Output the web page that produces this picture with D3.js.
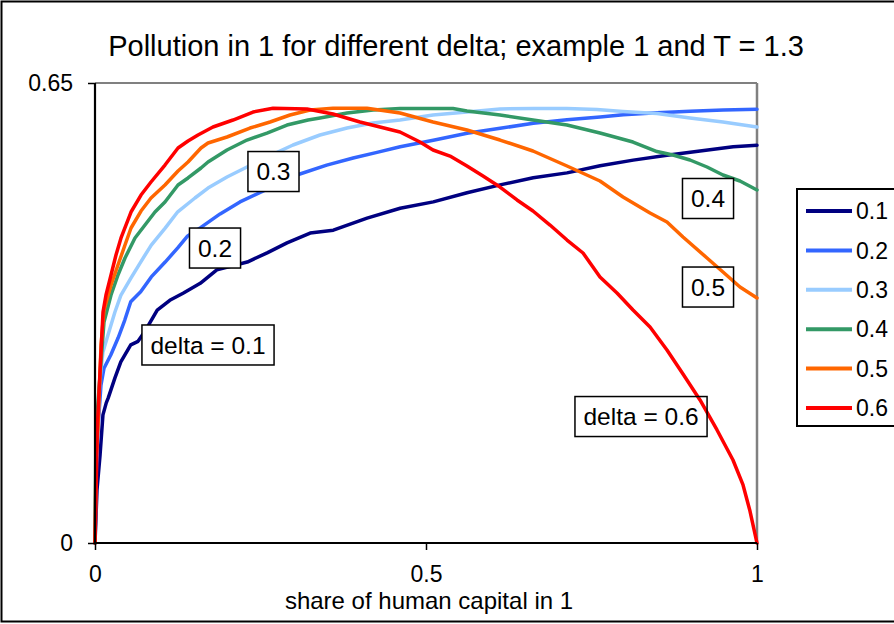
<!DOCTYPE html>
<html>
<head>
<meta charset="utf-8">
<script src="https://cdn.jsdelivr.net/npm/d3@7"></script>
<style>
  html, body { margin: 0; padding: 0; background: #fff; }
  svg { display: block; font-family: "Liberation Sans", Arial, sans-serif; }
</style>
</head>
<body>
<svg id="chart" width="894" height="624"></svg>
<script>
// ---- Data ----
const title = "Pollution in 1 for different delta; example 1 and T = 1.3";
const xTitle = "share of human capital in 1";
const xTicks = [0, 0.5, 1];
const yTicks = [0, 0.65];
const seriesNames = ["0.1", "0.2", "0.3", "0.4", "0.5", "0.6"];
const seriesColors = ["#000080", "#3366FF", "#99CCFF", "#339966", "#FF6600", "#FF0000"];

const delta01 = [[0,0],[0.003,0.075],[0.0076,0.124],[0.012,0.181],[0.017,0.198],[0.020,0.205],[0.030,0.233],[0.039,0.256],[0.054,0.280],[0.065,0.285],[0.076,0.300],[0.094,0.329],[0.113,0.343],[0.133,0.353],[0.159,0.367],[0.184,0.386],[0.230,0.397],[0.260,0.410],[0.290,0.424],[0.325,0.438],[0.360,0.442],[0.411,0.459],[0.461,0.473],[0.511,0.482],[0.562,0.495],[0.612,0.506],[0.662,0.516],[0.713,0.523],[0.763,0.533],[0.813,0.541],[0.864,0.548],[0.914,0.554],[0.964,0.560],[1.0,0.562]];
const delta02 = [[0,0],[0.0015,0.089],[0.0045,0.162],[0.009,0.223],[0.0136,0.247],[0.024,0.266],[0.035,0.290],[0.045,0.315],[0.054,0.341],[0.069,0.355],[0.085,0.376],[0.106,0.397],[0.125,0.417],[0.140,0.434],[0.160,0.446],[0.189,0.465],[0.219,0.482],[0.260,0.500],[0.305,0.520],[0.350,0.534],[0.390,0.544],[0.426,0.552],[0.461,0.560],[0.511,0.569],[0.562,0.579],[0.612,0.586],[0.662,0.593],[0.713,0.598],[0.763,0.602],[0.798,0.605],[0.849,0.608],[0.899,0.610],[0.949,0.612],[1.0,0.613]];
const delta03 = [[0,0],[0.0015,0.103],[0.0071,0.2275],[0.012,0.270],[0.0196,0.294],[0.030,0.326],[0.039,0.350],[0.054,0.374],[0.069,0.397],[0.085,0.421],[0.106,0.445],[0.125,0.468],[0.151,0.4875],[0.1707,0.5016],[0.1994,0.5172],[0.2296,0.5313],[0.2598,0.5454],[0.2991,0.5624],[0.3399,0.5765],[0.3807,0.5864],[0.4199,0.5935],[0.4607,0.5977],[0.5106,0.6048],[0.5619,0.609],[0.6118,0.6133],[0.6616,0.614],[0.7130,0.614],[0.7583,0.6125],[0.7976,0.6097],[0.8489,0.6069],[0.8988,0.6005],[0.9486,0.5949],[1.0,0.5878]];
const delta04 = [[0,0],[0.0015,0.1597],[0.0091,0.2558],[0.0136,0.3123],[0.0242,0.3504],[0.0347,0.3787],[0.0453,0.4027],[0.0604,0.431],[0.0755,0.4493],[0.0906,0.4677],[0.1057,0.4818],[0.1254,0.5059],[0.1405,0.5158],[0.1601,0.5299],[0.1707,0.5384],[0.1994,0.5553],[0.2296,0.5694],[0.2598,0.5793],[0.29,0.5906],[0.3218,0.5977],[0.3399,0.6005],[0.3807,0.6076],[0.4199,0.6118],[0.4607,0.614],[0.5408,0.614],[0.5619,0.6104],[0.6118,0.6048],[0.6616,0.5977],[0.713,0.5906],[0.7628,0.5793],[0.8127,0.5666],[0.8489,0.5532],[0.8731,0.5483],[0.8988,0.5412],[0.9245,0.5313],[0.9486,0.52],[0.9743,0.5115],[1.0,0.4988]];
const delta05 = [[0,0],[0.0015,0.1173],[0.0045,0.1625],[0.0091,0.2798],[0.0136,0.3292],[0.0242,0.3646],[0.0347,0.3928],[0.0453,0.4211],[0.0544,0.4451],[0.0695,0.4691],[0.0846,0.4875],[0.1057,0.5059],[0.1254,0.5256],[0.1405,0.5384],[0.1601,0.5581],[0.1707,0.5652],[0.1994,0.5737],[0.2341,0.5864],[0.2644,0.5949],[0.2946,0.6048],[0.3248,0.6118],[0.3595,0.6142],[0.4109,0.6142],[0.4607,0.6076],[0.5106,0.5949],[0.5619,0.5836],[0.6118,0.5694],[0.6616,0.5539],[0.713,0.5327],[0.7628,0.5115],[0.7976,0.4889],[0.8384,0.4663],[0.864,0.4536],[0.8882,0.4324],[0.9245,0.4027],[0.9486,0.3829],[0.9743,0.3617],[1.0,0.3462]];
const delta06 = [[0,0],[0.0008,0.0325],[0.0035,0.1625],[0.0071,0.2331],[0.0121,0.3264],[0.0166,0.3504],[0.0242,0.3787],[0.0317,0.407],[0.0393,0.431],[0.0544,0.4677],[0.0695,0.4917],[0.0846,0.5101],[0.1057,0.5341],[0.1254,0.5581],[0.1405,0.568],[0.1556,0.5765],[0.1782,0.5878],[0.2085,0.5977],[0.2387,0.609],[0.2689,0.6142],[0.3202,0.6133],[0.3595,0.6062],[0.4003,0.5949],[0.4305,0.5878],[0.4607,0.5808],[0.4909,0.5666],[0.5106,0.5553],[0.5363,0.5468],[0.5619,0.5327],[0.5861,0.5186],[0.6118,0.503],[0.6375,0.4847],[0.6616,0.4691],[0.6873,0.4493],[0.713,0.4281],[0.7372,0.4098],[0.7628,0.3759],[0.7885,0.3533],[0.8127,0.3292],[0.8384,0.3052],[0.864,0.2727],[0.8882,0.2388],[0.9139,0.2021],[0.9396,0.1597],[0.9637,0.1173],[0.9789,0.082],[0.9894,0.0452],[1.0,0]];
const seriesData = [delta01, delta02, delta03, delta04, delta05, delta06];

// annotation labels: text, box centre in data units, white fill?
const labelTexts = ["delta = 0.1", "0.2", "0.3", "0.4", "0.5", "delta = 0.6"];
const labelX = [0.1707, 0.1813, 0.2696, 0.926, 0.926, 0.8248];
const labelY = [0.2798, 0.4168, 0.5249, 0.4868, 0.3617, 0.1787];
const labelFilled = [true, true, true, true, false, false];

// ---- Drawing ----
const svg = d3.select("#chart");
const W = 894, H = 624;
const x = d3.scaleLinear().domain([0, 1]).range([95, 757]);
const y = d3.scaleLinear().domain([0, 0.65]).range([543, 83]);

svg.append("rect").attr("x", 0).attr("y", 0).attr("width", W).attr("height", H).attr("fill", "#fff");
// outer chart frame (right side is cut off in the reference)
svg.append("rect").attr("x", 1.5).attr("y", 1.5).attr("width", W + 20).attr("height", H - 4)
  .attr("fill", "none").attr("stroke", "#000").attr("stroke-width", 2);

// title
svg.append("text").attr("x", 456).attr("y", 56).attr("text-anchor", "middle")
  .attr("font-size", 29).attr("fill", "#000").text(title);

// plot border (top & right grey)
svg.append("line").attr("x1", x(0)).attr("x2", x(1)).attr("y1", y(0.65)).attr("y2", y(0.65))
  .attr("stroke", "#808080").attr("stroke-width", 2);
svg.append("line").attr("x1", x(1)).attr("x2", x(1)).attr("y1", y(0.65)).attr("y2", y(0))
  .attr("stroke", "#808080").attr("stroke-width", 2.5);

// series lines
const line = d3.line().x(d => x(d[0])).y(d => y(d[1]));
const gLines = svg.append("g");
seriesData.forEach((s, i) => {
  gLines.append("path").datum(s).attr("d", line).attr("fill", "none")
    .attr("stroke", seriesColors[i]).attr("stroke-width", 3.5)
    .attr("stroke-linejoin", "round").attr("stroke-linecap", "round");
});

// axes
const xAxis = d3.axisBottom(x).tickValues(xTicks).tickSize(7).tickPadding(16)
  .tickFormat(d => d === 0 ? "0" : d === 1 ? "1" : String(d));
const yAxis = d3.axisLeft(y).tickValues(yTicks).tickSize(7).tickPadding(15)
  .tickFormat(d => d === 0 ? "0" : String(d));
const gx = svg.append("g").attr("transform", `translate(0,${y(0)})`).call(xAxis);
const gy = svg.append("g").attr("transform", `translate(${x(0)},0)`).call(yAxis);
[gx, gy].forEach(g => {
  g.select(".domain").attr("stroke", "#000").attr("stroke-width", 2.2);
  g.selectAll(".tick line").attr("stroke", "#000").attr("stroke-width", 1.5);
  g.selectAll(".tick text").attr("fill", "#000").attr("font-size", 23)
    .attr("font-family", "'Liberation Sans', Arial, sans-serif");
});
gx.select(".domain").attr("d", `M${x(0)},0H${x(1)}`);
gy.select(".domain").attr("d", `M0,${y(0)}V${y(0.65)}`);

// x axis title
svg.append("text").attr("x", 429).attr("y", 609).attr("text-anchor", "middle")
  .attr("font-size", 24).attr("fill", "#000").text(xTitle);

// annotation boxes
const gLab = svg.append("g");
labelTexts.forEach((t, i) => {
  const cx = x(labelX[i]), cy = y(labelY[i]);
  const txt = gLab.append("text").attr("x", cx).attr("y", cy).attr("dy", "0.36em")
    .attr("text-anchor", "middle").attr("font-size", 24.5).attr("fill", "#000").text(t);
  const bw = txt.node().getComputedTextLength() + 17, bh = 40;
  gLab.insert("rect", () => txt.node()).attr("x", cx - bw / 2).attr("y", cy - bh / 2)
    .attr("width", bw).attr("height", bh)
    .attr("fill", labelFilled[i] ? "#fff" : "none").attr("stroke", "#000").attr("stroke-width", 1.5);
});

// legend
const leg = svg.append("g");
leg.append("rect").attr("x", 797).attr("y", 189).attr("width", 120).attr("height", 237)
  .attr("fill", "#fff").attr("stroke", "#000").attr("stroke-width", 2);
const legY = d3.scalePoint().domain(seriesNames).range([211, 408]);
seriesNames.forEach((n, i) => {
  leg.append("line").attr("x1", 806).attr("x2", 852).attr("y1", legY(n)).attr("y2", legY(n))
    .attr("stroke", seriesColors[i]).attr("stroke-width", 4);
  leg.append("text").attr("x", 856).attr("y", legY(n)).attr("dy", "0.36em")
    .attr("font-size", 23).attr("fill", "#000").text(n);
});
</script>
</body>
</html>
